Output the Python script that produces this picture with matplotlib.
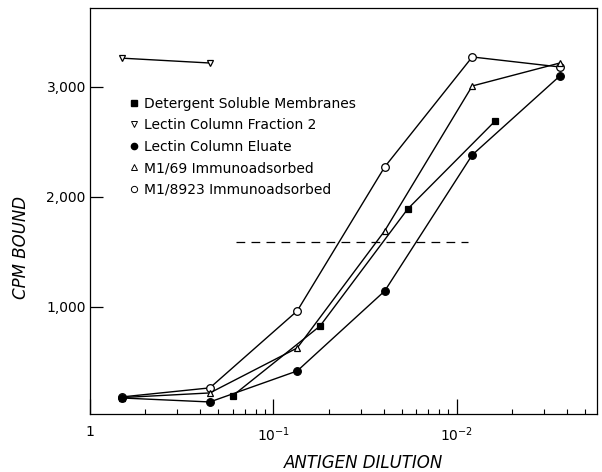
import numpy as np
import matplotlib
matplotlib.use('Agg')
import matplotlib.pyplot as plt
from matplotlib.lines import Line2D
from matplotlib.ticker import FixedLocator, FixedFormatter, NullFormatter


# three-fold antigen dilutions
dil = [0.667, 0.222, 0.0741, 0.0247, 0.00823, 0.00274]
dil_membranes = [0.167, 0.0556, 0.0185, 0.00617]
dil_fraction2 = [0.667, 0.222]

membranes = [191, 827, 1891, 2691]
fraction2 = [3262, 3218]
eluate = [172, 136, 418, 1145, 2382, 3100]
m169 = [176, 218, 627, 1692, 3009, 3218]
m18923 = [182, 264, 964, 2273, 3273, 3182]

half_max = 1590
half_max_range = [0.159, 0.0087]

labels = ['Detergent Soluble Membranes', 'Lectin Column Fraction 2',
          'Lectin Column Eluate', 'M1/69 Immunoadsorbed', 'M1/8923 Immunoadsorbed']

plt.rcParams['font.family'] = 'DejaVu Sans'

fig = plt.figure(figsize=(6.02, 4.72), dpi=100)
ax = fig.add_axes([0.1495, 0.123, 0.842, 0.860])

lw = 1.0
line = dict(color='black', lw=lw, markeredgecolor='black', markeredgewidth=0.9)
ax.plot(dil, m18923, marker='o', ms=5.5, mfc='white', zorder=3, **line)
ax.plot(dil, m169, marker='^', ms=5.0, mfc='white', zorder=3, **line)
ax.plot(dil, eluate, marker='o', ms=5.5, mfc='black', zorder=4, **line)
ax.plot(dil_membranes, membranes, marker='s', ms=5.0, mfc='black', zorder=4, **line)
ax.plot(dil_fraction2, fraction2, marker='v', ms=5.0, mfc='white', zorder=3, **line)
ax.plot(half_max_range, [half_max, half_max], color='black', lw=0.9,
        dashes=(7, 5), zorder=2)

ax.set_xscale('log')
ax.set_xlim(1.0, 0.00172)
ax.set_ylim(27, 3718)

# major ticks at decades, minor ticks at 1:n dilutions
ax.xaxis.set_major_locator(FixedLocator([1, 0.1, 0.01]))
ax.xaxis.set_major_formatter(FixedFormatter(['1', r'$10^{-1}$', r'$10^{-2}$']))
minor = [1.0 / n for n in range(2, 10)] + [0.1 / n for n in range(2, 10)] + [0.01 / n for n in range(2, 6)]
ax.xaxis.set_minor_locator(FixedLocator(minor))
ax.xaxis.set_minor_formatter(NullFormatter())

ax.yaxis.set_major_locator(FixedLocator([1000, 2000, 3000]))
ax.yaxis.set_major_formatter(FixedFormatter(['1,000', '2,000', '3,000']))
ax.yaxis.set_minor_locator(FixedLocator([]))

ax.tick_params(axis='x', which='major', direction='in', length=11, width=0.9,
               labelsize=10, pad=8)
ax.tick_params(axis='x', which='minor', direction='in', length=3.5, width=0.8)
ax.tick_params(axis='y', which='major', direction='in', length=9.5, width=0.9,
               labelsize=10, pad=3)
for s in ax.spines.values():
    s.set_linewidth(0.9)

ax.set_xlabel('ANTIGEN DILUTION', fontsize=12, style='italic')
ax.xaxis.set_label_coords(0.54, -0.098)
ax.set_ylabel('CPM BOUND', fontsize=12, style='italic')
ax.yaxis.set_label_coords(-0.118, 0.41)

handles = [
    Line2D([], [], ls='none', marker='s', ms=4, mfc='black', mec='black'),
    Line2D([], [], ls='none', marker='v', ms=4, mfc='white', mec='black', mew=0.7),
    Line2D([], [], ls='none', marker='o', ms=4.5, mfc='black', mec='black'),
    Line2D([], [], ls='none', marker='^', ms=4, mfc='white', mec='black', mew=0.7),
    Line2D([], [], ls='none', marker='o', ms=4.5, mfc='white', mec='black', mew=0.7),
]
ax.legend(handles, labels, loc='upper left', bbox_to_anchor=(0.067, 0.795),
          frameon=False, fontsize=10, handlelength=0.6, handletextpad=0.45,
          labelspacing=0.54, borderaxespad=0)

fig.savefig('out.png', dpi=100)
